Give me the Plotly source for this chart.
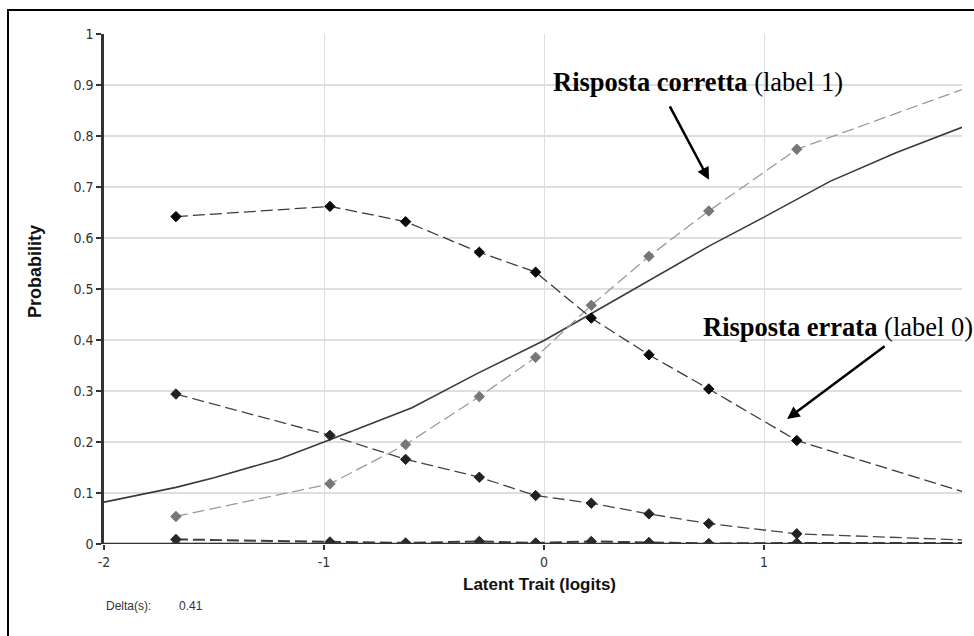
import plotly.graph_objects as go

# Latent trait positions (logits) of the observed group means
theta_obs = [-1.673, -0.973, -0.629, -0.294, -0.038, 0.215, 0.477, 0.749, 1.149]
theta_end = 1.9

# Observed category proportions; last value is the curve at the right edge
p_errata = [0.642, 0.662, 0.632, 0.572, 0.533, 0.443, 0.371, 0.304, 0.203, 0.103]
p_corretta = [0.054, 0.118, 0.195, 0.289, 0.366, 0.468, 0.564, 0.653, 0.774, 0.891]
p_cat2 = [0.294, 0.213, 0.166, 0.131, 0.095, 0.080, 0.059, 0.040, 0.020, 0.008]
p_cat3 = [0.009, 0.004, 0.002, 0.005, 0.002, 0.005, 0.003, 0.001, 0.002, 0.002]
p_cat4 = [0.0, 0.0, 0.0, 0.0, 0.0, 0.0, 0.0, 0.0, 0.0, 0.0]

# Model expected curve
theta_model = [-2.0, -1.673, -1.5, -1.2, -1.0, -0.6, -0.3, 0.0, 0.2, 0.5, 0.75, 1.0, 1.3, 1.6, 1.9]
p_model = [0.082, 0.111, 0.130, 0.167, 0.200, 0.267, 0.335, 0.399, 0.448, 0.522, 0.584, 0.641, 0.711, 0.767, 0.817]

x_ticks = [-2, -1, 0, 1]
y_ticks = [0, 0.1, 0.2, 0.3, 0.4, 0.5, 0.6, 0.7, 0.8, 0.9, 1]
y_tick_text = ["0", "0.1", "0.2", "0.3", "0.4", "0.5", "0.6", "0.7", "0.8", "0.9", "1"]
delta_value = "0.41"

x_line = theta_obs + [theta_end]
msizes = [8] * len(theta_obs) + [0]

fig = go.Figure()

fig.add_trace(go.Scatter(x=theta_model, y=p_model, mode="lines",
                         line=dict(color="#3a3a3a", width=1.6), hoverinfo="skip"))

series = [
    (p_cat4, "#8c8c8c", "#808080", 2.4),
    (p_cat3, "#3c3c3c", "#2a2a2a", 2.0),
    (p_cat2, "#444444", "#222222", 1.3),
    (p_corretta, "#9a9a9a", "#777777", 1.3),
    (p_errata, "#3a3a3a", "#0a0a0a", 1.3),
]
for ys, lc, mc, w in series:
    fig.add_trace(go.Scatter(
        x=x_line, y=ys, mode="lines+markers",
        line=dict(color=lc, width=w, dash="12px,5px"),
        marker=dict(symbol="diamond", size=msizes, color=mc, opacity=1,
                    line=dict(width=1, color=mc)),
    ))

tick_font = dict(family="Liberation Sans Narrow, Arial Narrow, DejaVu Sans Condensed, sans-serif",
                 size=14, color="#333333")

fig.update_xaxes(range=[-2, 1.9], tickvals=x_ticks, ticktext=["-2", "-1", "0", "1"],
                 showgrid=True, gridcolor="#dedede", gridwidth=1.3,
                 zeroline=False, showline=False, ticks="outside", ticklen=5,
                 tickcolor="#333333", tickwidth=1.5, tickfont=tick_font)
fig.update_yaxes(range=[0, 1], tickvals=y_ticks, ticktext=y_tick_text,
                 showgrid=True, gridcolor="#dedede", gridwidth=1.5,
                 zeroline=False, showline=True, linecolor="#333333", linewidth=2.5,
                 ticks="outside", ticklen=5, tickcolor="#333333", tickwidth=1.5,
                 tickfont=tick_font)

# x axis baseline
fig.add_shape(type="line", xref="paper", yref="y", x0=0, x1=1, y0=0, y1=0,
              line=dict(color="#333333", width=2.5))

# outer frame
fig.add_shape(type="rect", xref="paper", yref="paper",
              x0=(8 - 104) / 858, x1=1.2, y0=(544 - 10) / 510, y1=-0.3,
              line=dict(color="black", width=2))

sans = "Liberation Sans, Arial, sans-serif"
serif = "Liberation Serif, Times New Roman, serif"

annotations = [
    dict(text="<b>Probability</b>", xref="paper", yref="paper",
         x=(35 - 104) / 858, y=(544 - 272) / 510, xanchor="center", yanchor="middle",
         textangle=-90, showarrow=False,
         font=dict(family=sans, size=18, color="#111111")),
    dict(text="<b>Latent Trait (logits)</b>", xref="paper", yref="paper",
         x=(539 - 104) / 858, y=(544 - 584) / 510, xanchor="center", yanchor="middle",
         showarrow=False, font=dict(family=sans, size=17, color="#111111")),
    dict(text="Delta(s):", xref="paper", yref="paper", xanchor="left", yanchor="middle",
         x=0, y=(544 - 606) / 510, showarrow=False,
         font=dict(family=sans, size=12, color="#333333")),
    dict(text=delta_value, xref="paper", yref="paper", xanchor="left", yanchor="middle",
         x=(177 - 104) / 858, y=(544 - 606) / 510, showarrow=False,
         font=dict(family=sans, size=12, color="#333333")),
    dict(text="<b>Risposta corretta</b> (label 1)", xref="paper", yref="paper",
         xanchor="left", yanchor="middle", x=(551 - 104) / 858, y=(544 - 82) / 510,
         showarrow=False, font=dict(family=serif, size=26.5, color="black")),
    dict(text="<b>Risposta errata</b> (label 0)", xref="paper", yref="paper",
         xanchor="left", yanchor="middle", x=(701 - 104) / 858, y=(544 - 327) / 510,
         showarrow=False, font=dict(family=serif, size=26.5, color="black")),
    dict(text="", x=0.75, y=0.714, xref="x", yref="y", showarrow=True,
         ax=-40, ay=-75, arrowhead=2, arrowsize=1, arrowwidth=2.5, arrowcolor="black"),
    dict(text="", x=1.105, y=0.245, xref="x", yref="y", showarrow=True,
         ax=99, ay=-74, arrowhead=2, arrowsize=1, arrowwidth=2.5, arrowcolor="black"),
]

fig.update_layout(
    width=974, height=636,
    margin=dict(l=104, r=12, t=34, b=92),
    paper_bgcolor="white", plot_bgcolor="white",
    showlegend=False,
    annotations=annotations,
)

fig.write_html("out.html")
